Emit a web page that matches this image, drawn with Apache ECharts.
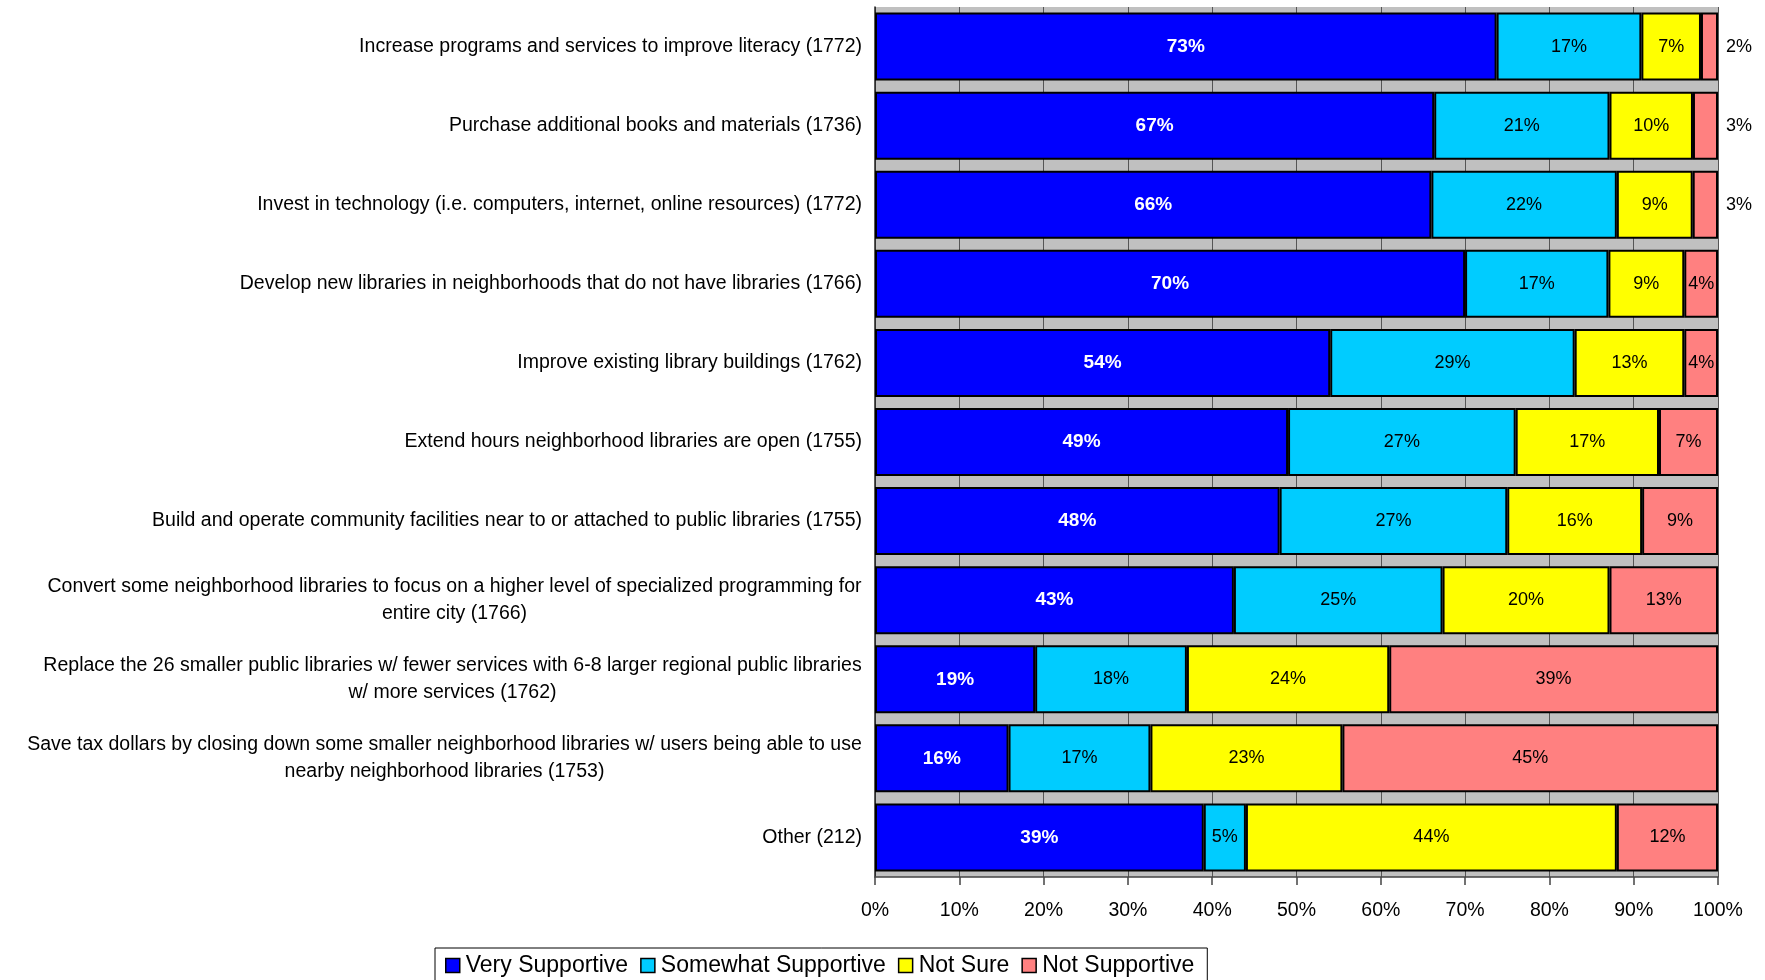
<!DOCTYPE html>
<html>
<head>
<meta charset="utf-8">
<script src="https://cdn.jsdelivr.net/npm/echarts@6/dist/echarts.min.js"></script>
<style>
  html, body { margin: 0; padding: 0; background: #ffffff; }
  #chart { width: 1765px; height: 980px; }
</style>
</head>
<body>
<div id="chart"></div>
<script>
// Survey items, top to bottom, with respondent counts
const categories = [
  'Increase programs and services to improve literacy (1772)',
  'Purchase additional books and materials (1736)',
  'Invest in technology (i.e. computers, internet, online resources) (1772)',
  'Develop new libraries in neighborhoods that do not have libraries (1766)',
  'Improve existing library buildings (1762)',
  'Extend hours neighborhood libraries are open (1755)',
  'Build and operate community facilities near to or attached to public libraries (1755)',
  'Convert some neighborhood libraries to focus on a higher level of specialized programming for\nentire city (1766)',
  'Replace the 26 smaller public libraries w/ fewer services with 6-8 larger regional public libraries\nw/ more services (1762)',
  'Save tax dollars by closing down some smaller neighborhood libraries w/ users being able to use\nnearby neighborhood libraries (1753)',
  'Other (212)'
];

const seriesNames = ['Very Supportive', 'Somewhat Supportive', 'Not Sure', 'Not Supportive'];

// Percent of respondents per answer
const verySupportive     = [73, 67, 66, 70, 54, 49, 48, 43, 19, 16, 39];
const somewhatSupportive = [17, 21, 22, 17, 29, 27, 27, 25, 18, 17, 5];
const notSure            = [7, 10, 9, 9, 13, 17, 16, 20, 24, 23, 44];
const notSupportive      = [2, 3, 3, 4, 4, 7, 9, 13, 39, 45, 12];

const xTickValues = [0, 10, 20, 30, 40, 50, 60, 70, 80, 90, 100];

const FONT = '"Liberation Sans", Arial, Helvetica, sans-serif';
const colors = ['#0000FF', '#00CCFF', '#FFFF00', '#FF8080'];
const seriesValues = [verySupportive, somewhatSupportive, notSure, notSupportive];

// 100% stacked: each row is scaled to its own total
const rowTotals = categories.map((_, i) =>
  seriesValues.reduce((s, arr) => s + arr[i], 0));

// Two-line labels: center each line inside the width of the longest line
const CAT_FONT_SIZE = 19.5;
const measureCtx = document.createElement('canvas').getContext('2d');
measureCtx.font = CAT_FONT_SIZE + 'px ' + FONT;
const rich = {};
categories.forEach((c, i) => {
  const lines = c.split('\n');
  if (lines.length > 1) {
    const w = Math.ceil(Math.max(...lines.map(l => measureCtx.measureText(l).width)));
    rich['c' + i] = {
      width: w, align: 'center', fontSize: CAT_FONT_SIZE, lineHeight: 27,
      fontFamily: FONT, color: '#000'
    };
  }
});

const series = seriesNames.map((name, si) => ({
  name: name,
  type: 'bar',
  stack: 'total',
  barWidth: 68,
  itemStyle: { color: colors[si], borderColor: '#000', borderWidth: 2 },
  label: {
    show: true,
    position: 'inside',
    fontFamily: FONT,
    fontSize: si === 0 ? 19 : 18,
    fontWeight: si === 0 ? 'bold' : 'normal',
    color: si === 0 ? '#fff' : '#000',
    formatter: p => p.data.raw + '%'
  },
  data: seriesValues[si].map((v, i) => {
    const item = { value: v / rowTotals[i] * 100, raw: v };
    if (si === 3 && v <= 3) {
      item.label = { position: 'right', distance: 8 };
    }
    return item;
  })
}));

const chart = echarts.init(document.getElementById('chart'), null, { renderer: 'canvas' });
chart.setOption({
  backgroundColor: '#ffffff',
  animation: false,
  textStyle: { fontFamily: FONT },
  grid: {
    left: 875, right: 47, top: 7, bottom: 103,
    show: true, backgroundColor: '#C0C0C0', borderWidth: 0
  },
  legend: {
    data: seriesNames,
    left: 435, top: 948,
    orient: 'horizontal',
    itemWidth: 14, itemHeight: 14, itemGap: 12,
    icon: 'rect',
    padding: [6, 13, 12, 10],
    borderColor: '#000', borderWidth: 1,
    itemStyle: { borderColor: '#000', borderWidth: 1.5 },
    textStyle: { fontFamily: FONT, fontSize: 23, color: '#000', padding: [0, 0, 0, 1] }
  },
  xAxis: {
    type: 'value',
    min: 0, max: 100, interval: 10,
    axisLine: { show: true, lineStyle: { color: '#444', width: 1.5 } },
    axisTick: { show: true, length: 8, lineStyle: { color: '#444', width: 1.5 } },
    axisLabel: {
      margin: 24, fontSize: 19.5, color: '#000', fontFamily: FONT,
      customValues: xTickValues,
      formatter: v => v + '%'
    },
    splitLine: { show: true, lineStyle: { color: '#555', width: 1 } }
  },
  yAxis: {
    type: 'category',
    inverse: true,
    data: categories,
    axisLine: { show: true, lineStyle: { color: '#222', width: 1.5 } },
    axisTick: { show: false },
    axisLabel: {
      margin: 13, fontSize: CAT_FONT_SIZE, color: '#000', fontFamily: FONT,
      lineHeight: 27,
      rich: rich,
      formatter: (value, index) => {
        const lines = value.split('\n');
        if (lines.length === 1) return value;
        return lines.map(l => '{c' + index + '|' + l + '}').join('\n');
      }
    }
  },
  series: series
});
</script>
</body>
</html>
